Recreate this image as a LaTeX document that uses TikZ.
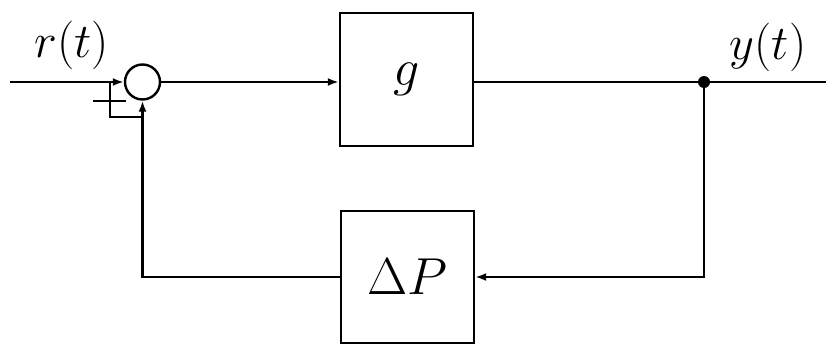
\documentclass[tikz,border=0pt]{standalone}
\usetikzlibrary{arrows.meta}
\newcommand{\bigmath}[2]{\scalebox{#1}{\Huge$#2$}}
\begin{document}
\begin{tikzpicture}[x=1pt,y=-1pt, line width=2.4pt,
  blk/.style={draw, minimum width=133pt, minimum height=133pt, inner sep=0pt},
  sig/.style={inner sep=0pt},
  arr/.style={-{Latex[length=11pt,width=8pt]}}]
\useasboundingbox (0,0) rectangle (826,345);
\node[draw, circle, minimum size=35pt, inner sep=0pt] (sum) at (142.5,82) {};
\node[blk] (g) at (406.5,79.5) {\bigmath{2.09}{g}};
\node[blk, minimum height=132pt] (dp) at (407.5,277) {\bigmath{2.09}{\Delta P}};
\coordinate (in) at (10,82);
\coordinate (out) at (826,82);
\coordinate (br) at (704,82);
\coordinate (j1) at (110,82);
\coordinate (j2) at (143,117);
\coordinate (m1) at (93,101);
\coordinate (m2) at (126,101);
\node[sig] (r) at (72,45) {\bigmath{1.95}{r(t)}};
\node[sig] (y) at (768,47) {\bigmath{1.95}{y(t)}};
\draw[arr] (in) -- (sum.west);
\draw[arr] (sum.east) -- (g.west |- sum.east);
\draw (g.east |- sum.east) -- (out);
\fill (br) circle (6pt);
\draw[arr] (br) |- (dp.east);
\draw[arr] (dp.west) -| (sum.south);
\draw (j1) |- (j2);
\draw (m1) -- (m2);
\end{tikzpicture}
\end{document}
